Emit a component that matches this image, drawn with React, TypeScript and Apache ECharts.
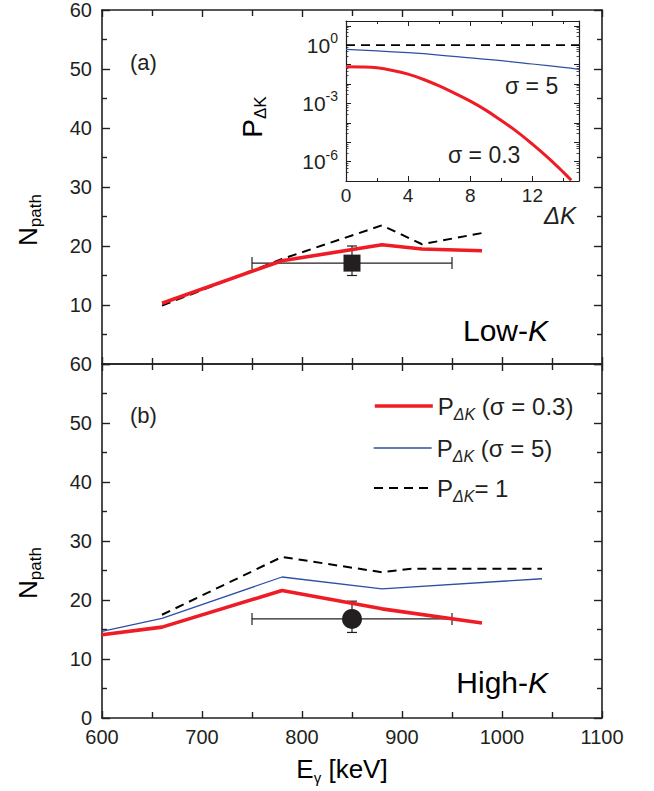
import React, { useEffect, useRef } from 'react';
import * as echarts from 'echarts';

// ---------- data ----------
// panel (a) Low-K
const E_RED_A = [660, 780, 880, 920, 980];
const N_RED_A = [10.3, 17.5, 20.2, 19.5, 19.2];
const E_DASH_A = [660, 780, 880, 920, 980];
const N_DASH_A = [9.9, 17.8, 23.5, 20.3, 22.2];
const EXP_A = [850, 17.1, 750, 950, 15.0, 20.0]; // x, y, xlo, xhi, ylo, yhi

// panel (b) High-K
const E_RED_B = [600, 660, 780, 880, 980];
const N_RED_B = [14.1, 15.4, 21.6, 18.5, 16.1];
const E_BLUE_B = [600, 660, 780, 880, 1040];
const N_BLUE_B = [14.7, 16.9, 23.9, 21.9, 23.6];
const E_DASH_B = [660, 780, 880, 910, 1040];
const N_DASH_B = [17.5, 27.3, 24.7, 25.3, 25.3];
const EXP_B = [850, 16.8, 750, 950, 14.5, 19.8];

// inset
const DK_S03 = [0, 1, 2, 3, 4, 5, 6, 7, 8, 9, 10, 11, 12, 13, 14, 14.5];
const P_S03 = [7.8e-2, 7.6e-2, 6.8e-2, 5.0e-2, 3.2e-2, 1.7e-2, 7.9e-3, 3.3e-3, 1.3e-3, 4.5e-4, 1.3e-4, 3.5e-5, 7.9e-6, 1.6e-6, 2.8e-7, 1.1e-7];
const DK_S5 = [0, 2, 4, 6, 8, 10, 12, 14, 15];
const P_S5 = [0.6, 0.51, 0.41, 0.31, 0.22, 0.16, 0.107, 0.071, 0.056];
const DK_ONE = [0, 15];
const P_ONE = [1, 1];

const X_TICKS_MAIN = { min: 600, max: 1100, interval: 100 };
const Y_TICKS_MAIN = { min: 0, max: 60, interval: 10 };

const DARK = '#231f20';
const RED = '#ee1c24';
const BLUE = '#2e4fa3';
const FONT = 'Liberation Sans, Arial, Helvetica, sans-serif';

const zip = (a: number[], b: number[]) => a.map((v, i) => [v, b[i]]);

const mainX = (gridIndex: number, position: string, labels: boolean) => ({
  type: 'value', gridIndex, position, ...X_TICKS_MAIN,
  axisLine: { show: true, onZero: false, lineStyle: { color: DARK, width: 1.6 } },
  axisTick: { show: true, inside: true, length: 7, lineStyle: { color: DARK, width: 1.4 } },
  minorTick: { show: true, splitNumber: 2, length: 6, lineStyle: { color: DARK, width: 1.4 } },
  splitLine: { show: false },
  axisLabel: { show: labels, fontSize: 20, color: DARK, fontFamily: FONT, margin: 9, formatter: (v: number) => String(v) },
});
const mainY = (gridIndex: number, position: string, labels: boolean, hideMin: boolean) => ({
  type: 'value', gridIndex, position, ...Y_TICKS_MAIN,
  axisLine: { show: true, onZero: false, lineStyle: { color: DARK, width: 1.6 } },
  axisTick: { show: true, inside: true, length: 8, lineStyle: { color: DARK, width: 1.4 } },
  minorTick: { show: true, splitNumber: 2, length: 5, lineStyle: { color: DARK, width: 1.4 } },
  splitLine: { show: false },
  axisLabel: { show: labels, fontSize: 20, color: DARK, fontFamily: FONT, margin: 10, showMinLabel: !hideMin },
});

const errRender = (params: any, api: any) => {
  const x = api.value(0), y = api.value(1);
  const pL = api.coord([api.value(2), y]);
  const pH = api.coord([api.value(3), y]);
  const pB = api.coord([x, api.value(4)]);
  const pT = api.coord([x, api.value(5)]);
  const style = { stroke: DARK, lineWidth: 1.2, opacity: 1 };
  return {
    type: 'group',
    children: [
      { type: 'line', shape: { x1: pL[0], y1: pL[1], x2: pH[0], y2: pH[1] }, style },
      { type: 'line', shape: { x1: pL[0], y1: pL[1] - 6, x2: pL[0], y2: pL[1] + 6 }, style },
      { type: 'line', shape: { x1: pH[0], y1: pH[1] - 6, x2: pH[0], y2: pH[1] + 6 }, style },
      { type: 'line', shape: { x1: pB[0], y1: pB[1], x2: pT[0], y2: pT[1] }, style },
      { type: 'line', shape: { x1: pB[0] - 5, y1: pB[1], x2: pB[0] + 5, y2: pB[1] }, style },
      { type: 'line', shape: { x1: pT[0] - 5, y1: pT[1], x2: pT[0] + 5, y2: pT[1] }, style },
    ],
  };
};

const legendRich = {
  p: { fontSize: 24, fontFamily: FONT, color: DARK },
  sub: { fontSize: 16, fontStyle: 'italic', fontFamily: FONT, color: DARK, padding: [16, 0, 0, 0] },
  t: { fontSize: 24, fontFamily: FONT, color: DARK },
};
const legendText: Record<string, string> = {
  s03: '{p|P}{sub|ΔK}{t| (σ = 0.3)}',
  s5: '{p|P}{sub|ΔK}{t| (σ = 5)}',
  one: '{p|P}{sub|ΔK}{t|= 1}',
};
const mkLegend = (name: string, top: number, width: number) => ({
  data: [name], left: 368, top, orient: 'vertical', itemWidth: 58, itemHeight: 14, selectedMode: false,
  itemStyle: { opacity: 0, borderWidth: 0 },
  lineStyle: { width },
  formatter: (n: string) => legendText[n], textStyle: { rich: legendRich },
});

export default function App() {
  const ref = useRef<HTMLDivElement>(null);
  useEffect(() => {
    const chart = echarts.init(ref.current!, null, { renderer: 'svg' });
    const line = (name: string, xi: number, yi: number, data: number[][], color: string, width: number, dashed = false, smooth = false) => ({
      type: 'line', name, xAxisIndex: xi, yAxisIndex: yi, data, symbol: 'none', silent: true, smooth: smooth ? 0.4 : false,
      lineStyle: { color, width, type: dashed ? [9, 6] : 'solid' }, itemStyle: { color },
    });
    const logLabel = (v: number) => {
      const n = Math.round(Math.log10(v));
      if (Math.abs(Math.log10(v) - n) > 1e-6 || n % 3 !== 0 || n > 0) return '';
      return `{b|10}{s|${n}}`;
    };
    const insetYBase = {
      type: 'log', logBase: 10, gridIndex: 2, min: 1e-7, max: 17.6, interval: 1,
      axisLine: { show: true, onZero: false, lineStyle: { color: DARK, width: 1.2 } },
      axisTick: { show: true, inside: true, length: 5, lineStyle: { color: DARK, width: 1 } },
      minorTick: { show: true, splitNumber: 5, length: 2.5, lineStyle: { color: DARK, width: 0.8 } },
      splitLine: { show: false },
    };
    const insetXBase = {
      type: 'value', gridIndex: 2, min: 0, max: 15, interval: 4,
      axisLine: { show: true, onZero: false, lineStyle: { color: DARK, width: 1.2 } },
      axisTick: { show: true, inside: true, length: 5, lineStyle: { color: DARK, width: 1 } },
      minorTick: { show: true, splitNumber: 2, length: 3, lineStyle: { color: DARK, width: 1 } },
      splitLine: { show: false },
    };
    chart.setOption({
      animation: false,
      grid: [
        { left: 102, top: 10, width: 500, height: 354 },
        { left: 102, top: 364, width: 500, height: 354 },
        { left: 346, top: 21, width: 233, height: 160 },
      ],
      xAxis: [
        mainX(0, 'bottom', false),
        mainX(0, 'top', false),
        mainX(1, 'bottom', true),
        mainX(1, 'top', false),
        { ...insetXBase, position: 'bottom', axisLabel: { show: true, fontSize: 19, color: DARK, fontFamily: FONT, margin: 5, showMaxLabel: false } },
        { ...insetXBase, position: 'top', axisLabel: { show: false } },
      ],
      yAxis: [
        mainY(0, 'left', true, true),
        mainY(0, 'right', false, false),
        mainY(1, 'left', true, false),
        mainY(1, 'right', false, false),
        {
          ...insetYBase, position: 'left',
          axisLabel: {
            show: true, margin: 8, formatter: logLabel,
            rich: {
              b: { fontSize: 21, fontFamily: FONT, color: DARK },
              s: { fontSize: 14, fontFamily: FONT, color: DARK, padding: [0, 0, 14, 0] },
            },
          },
        },
        { ...insetYBase, position: 'right', axisLabel: { show: false } },
      ],
      legend: [mkLegend('s03', 389, 3.6), mkLegend('s5', 431, 1.3), mkLegend('one', 471, 2)],
      series: [
        line('one', 0, 0, zip(E_DASH_A, N_DASH_A), '#000', 2, true),
        line('s03', 0, 0, zip(E_RED_A, N_RED_A), RED, 3.6),
        { type: 'custom', xAxisIndex: 0, yAxisIndex: 0, data: [EXP_A], renderItem: errRender, encode: { x: [0, 2, 3], y: [1, 4, 5] }, silent: true },
        { type: 'scatter', xAxisIndex: 0, yAxisIndex: 0, data: [EXP_A.slice(0, 2)], symbol: 'rect', symbolSize: 17, itemStyle: { color: DARK, opacity: 1 }, silent: true },

        line('one', 2, 2, zip(E_DASH_B, N_DASH_B), '#000', 2, true),
        line('s5', 2, 2, zip(E_BLUE_B, N_BLUE_B), BLUE, 1.3),
        line('s03', 2, 2, zip(E_RED_B, N_RED_B), RED, 3.6),
        { type: 'custom', xAxisIndex: 2, yAxisIndex: 2, data: [EXP_B], renderItem: errRender, encode: { x: [0, 2, 3], y: [1, 4, 5] }, silent: true },
        { type: 'scatter', xAxisIndex: 2, yAxisIndex: 2, data: [EXP_B.slice(0, 2)], symbol: 'circle', symbolSize: 20, itemStyle: { color: DARK, opacity: 1 }, silent: true },

        line('one', 4, 4, zip(DK_ONE, P_ONE), '#000', 1.8, true),
        line('s5', 4, 4, zip(DK_S5, P_S5), BLUE, 1.2, false, true),
        line('s03', 4, 4, zip(DK_S03, P_S03), RED, 3, false, true),
      ],
      graphic: [
        { type: 'text', x: 130, y: 62, style: { text: '(a)', fontSize: 22, fontFamily: FONT, fill: DARK, align: 'left', verticalAlign: 'middle' } },
        { type: 'text', x: 130, y: 415, style: { text: '(b)', fontSize: 22, fontFamily: FONT, fill: DARK, align: 'left', verticalAlign: 'middle' } },
        {
          type: 'text', x: 548, y: 330, style: {
            text: '{r|Low-}{i|K}', align: 'right', verticalAlign: 'middle',
            rich: { r: { fontSize: 30, fontFamily: FONT, color: DARK }, i: { fontSize: 30, fontFamily: FONT, fontStyle: 'italic', color: DARK } },
          },
        },
        {
          type: 'text', x: 548, y: 682, style: {
            text: '{r|High-}{i|K}', align: 'right', verticalAlign: 'middle',
            rich: { r: { fontSize: 30, fontFamily: FONT, color: DARK }, i: { fontSize: 30, fontFamily: FONT, fontStyle: 'italic', color: DARK } },
          },
        },
        ...[220, 573].map((cy) => ({
          type: 'text', x: 28, y: cy, rotation: Math.PI / 2, style: {
            text: '{n|N}{s|path}', align: 'center', verticalAlign: 'middle',
            rich: { n: { fontSize: 26, fontFamily: FONT, color: DARK }, s: { fontSize: 17, fontFamily: FONT, color: DARK, padding: [14, 0, 0, 0] } },
          },
        })),
        {
          type: 'text', x: 342, y: 769, style: {
            text: '{e|E}{s|γ}{e| [keV]}', align: 'center', verticalAlign: 'middle',
            rich: { e: { fontSize: 26, fontFamily: FONT, color: DARK }, s: { fontSize: 15, fontFamily: FONT, color: DARK, padding: [16, 0, 0, 0] } },
          },
        },
        {
          type: 'text', x: 252, y: 117, rotation: Math.PI / 2, style: {
            text: '{p|P}{s|ΔK}', align: 'center', verticalAlign: 'middle',
            rich: { p: { fontSize: 28, fontFamily: FONT, color: DARK }, s: { fontSize: 17, fontFamily: FONT, color: DARK, padding: [16, 0, 0, 0] } },
          },
        },
        { type: 'text', x: 505, y: 86, style: { text: 'σ = 5', fontSize: 23, fontFamily: FONT, fill: DARK, align: 'left', verticalAlign: 'middle' } },
        { type: 'text', x: 448, y: 155, style: { text: 'σ = 0.3', fontSize: 23, fontFamily: FONT, fill: DARK, align: 'left', verticalAlign: 'middle' } },
        { type: 'text', x: 560, y: 215, style: { text: 'ΔK', fontSize: 24, fontStyle: 'italic', fontFamily: FONT, fill: DARK, align: 'center', verticalAlign: 'middle' } },
      ],
    });
    return () => chart.dispose();
  }, []);
  return <div ref={ref} style={{ position: 'absolute', left: 0, top: 0, width: 654, height: 791, background: '#fff' }} />;
}
